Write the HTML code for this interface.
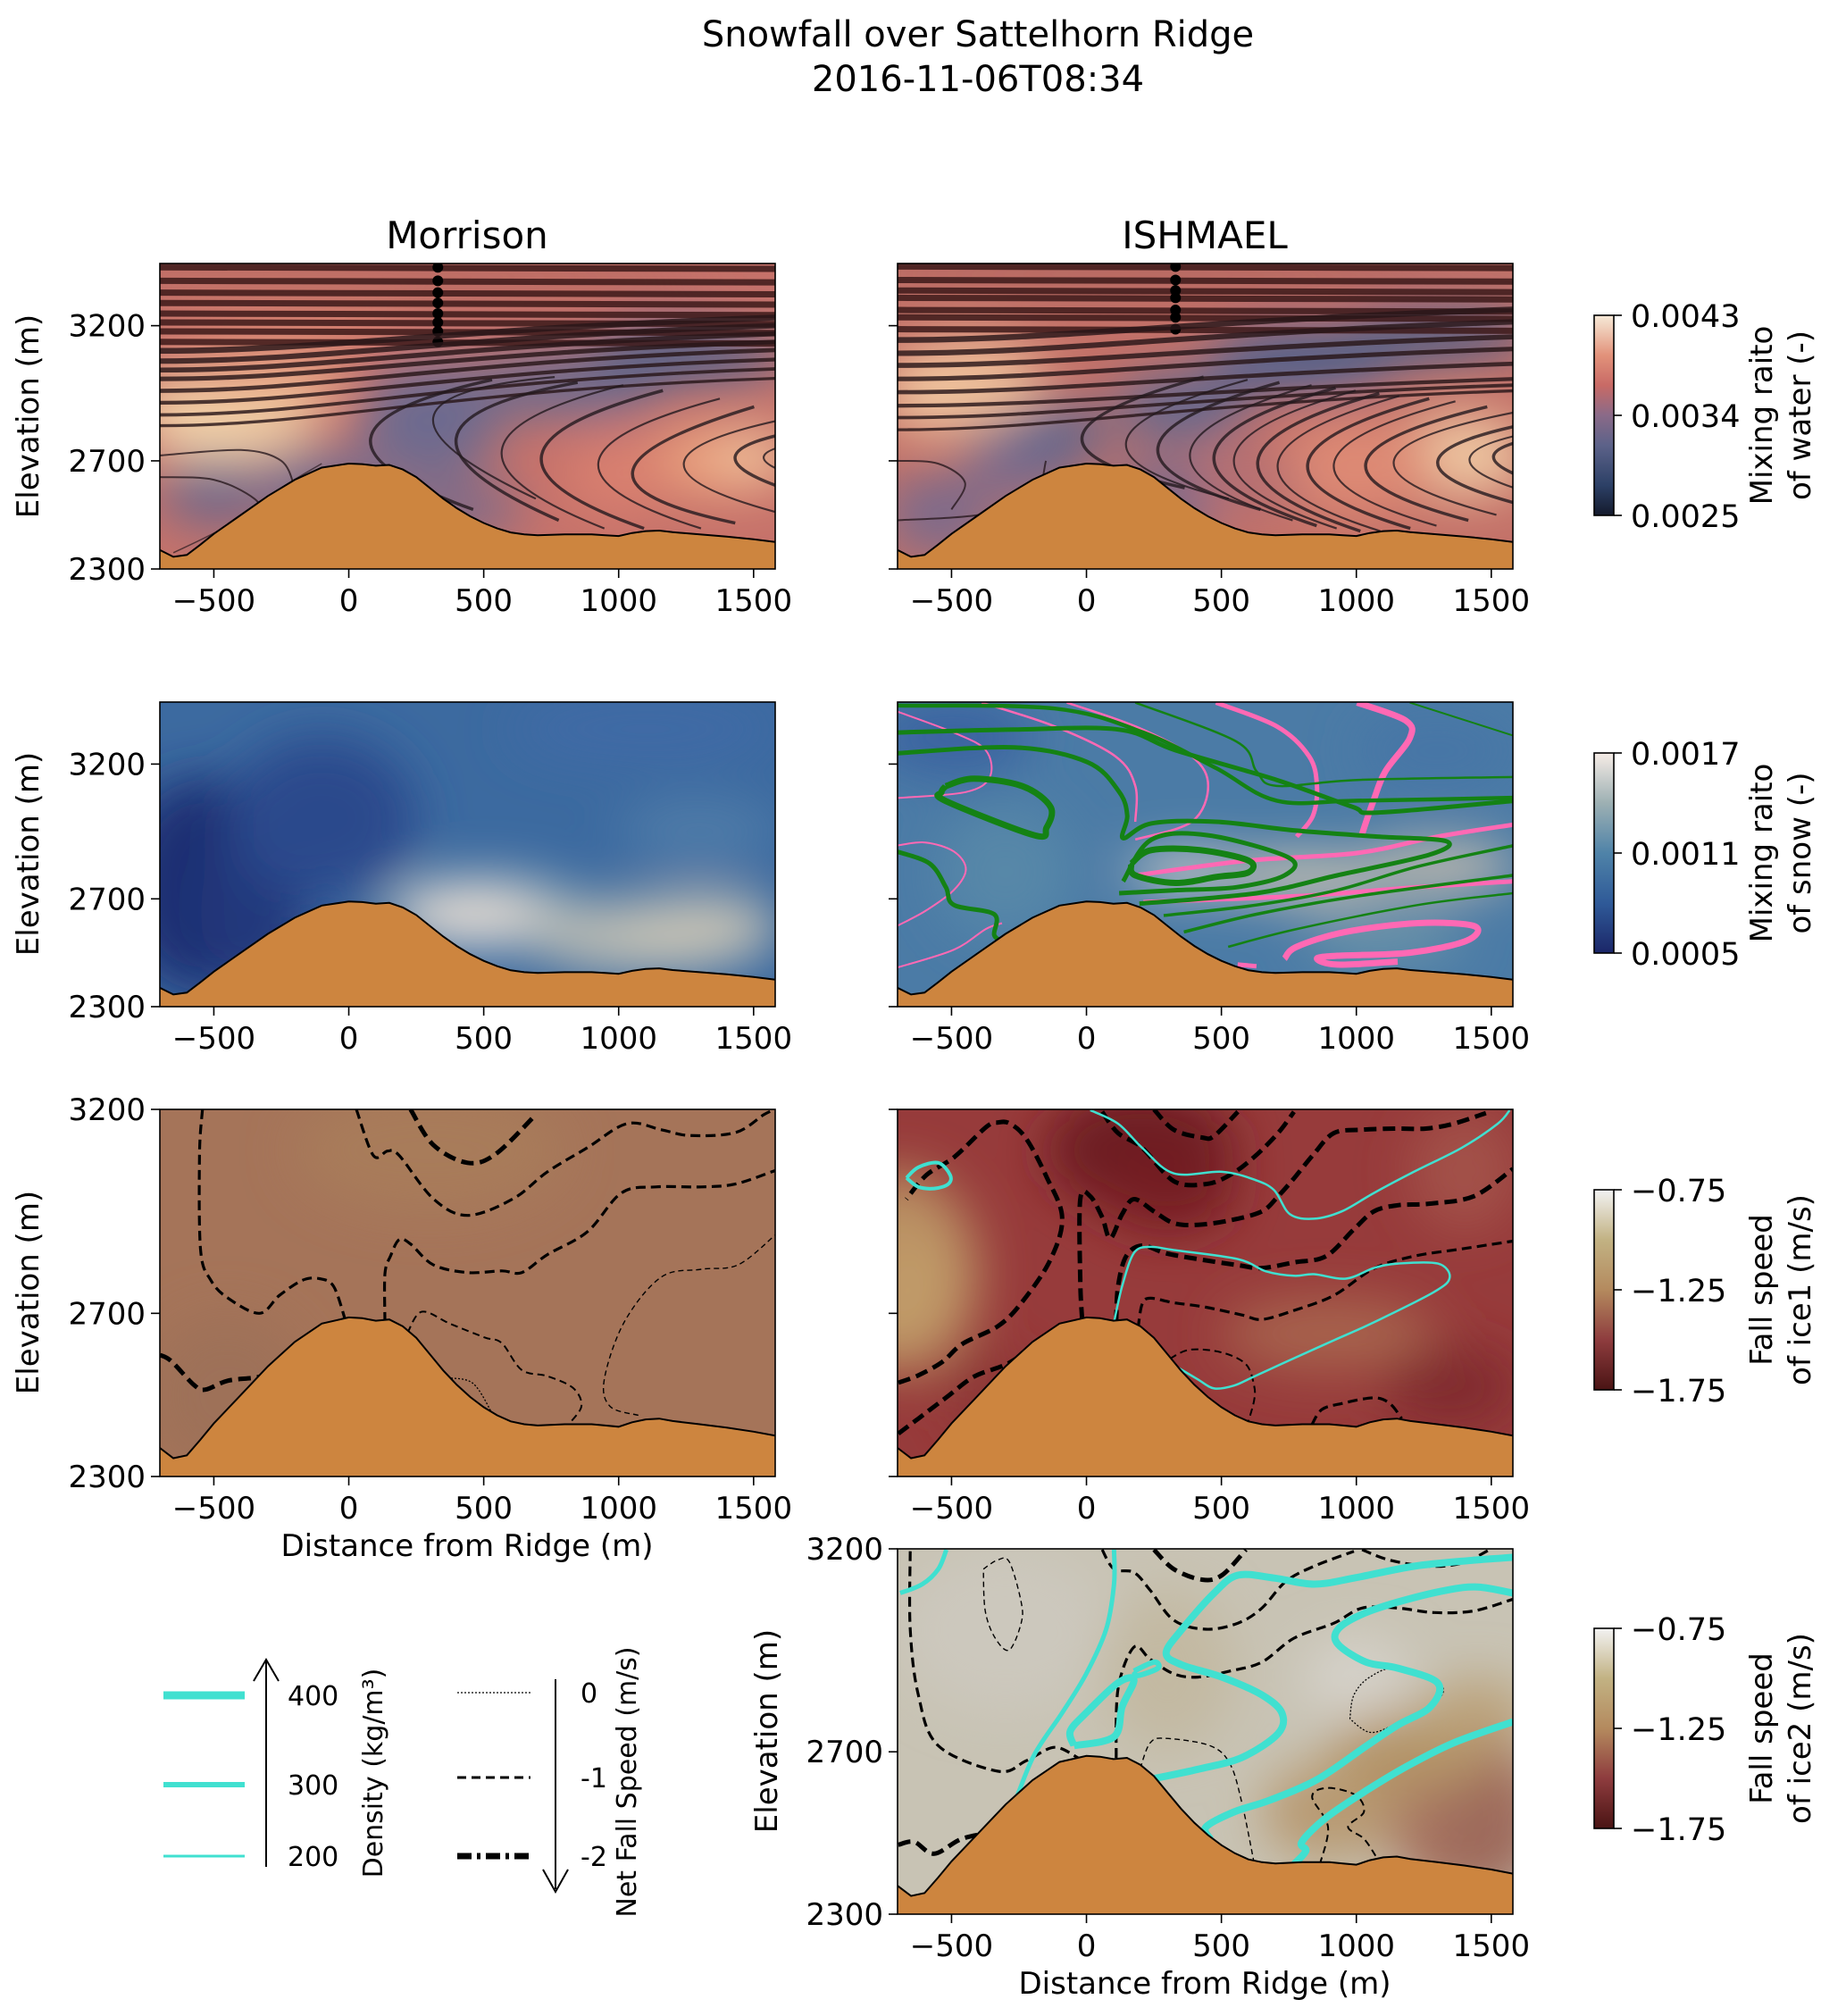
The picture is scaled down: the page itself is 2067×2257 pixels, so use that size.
<!DOCTYPE html>
<html><head><meta charset="utf-8"><title>Snowfall over Sattelhorn Ridge</title>
<style>
html,body{margin:0;padding:0;background:#fff;}
svg{display:block;font-family:"DejaVu Sans","Liberation Sans",sans-serif;}
</style></head>
<body>
<svg id="fig" xmlns="http://www.w3.org/2000/svg" width="2067" height="2257" viewBox="0 0 2067 2257">
<defs>
<linearGradient id="cbWater" x1="0" y1="1" x2="0" y2="0">
<stop offset="0" stop-color="#141a2c"/><stop offset="0.15" stop-color="#2c4066"/><stop offset="0.35" stop-color="#5c6289"/><stop offset="0.5" stop-color="#8a6a88"/><stop offset="0.65" stop-color="#c86a66"/><stop offset="0.8" stop-color="#e2927a"/><stop offset="1" stop-color="#f6ead8"/></linearGradient>
<linearGradient id="cbSnow" x1="0" y1="1" x2="0" y2="0">
<stop offset="0" stop-color="#1b2668"/><stop offset="0.25" stop-color="#2f5a98"/><stop offset="0.5" stop-color="#4f83a8"/><stop offset="0.75" stop-color="#9db0b3"/><stop offset="1" stop-color="#f6ece6"/></linearGradient>
<linearGradient id="cbIce" x1="0" y1="1" x2="0" y2="0">
<stop offset="0" stop-color="#4a1414"/><stop offset="0.25" stop-color="#8e3c3e"/><stop offset="0.5" stop-color="#b48a5e"/><stop offset="0.75" stop-color="#c2b283"/><stop offset="1" stop-color="#f2f2f2"/></linearGradient>
</defs>
<g id="root"></g>
</svg>
<script>
// ---------- axis settings ----------
const xTicks=[-500,0,500,1000,1500];
const yTicksTall=[2300,2700,3200];
// ---------- terrain profile ----------
const terrX=[-700,-650,-600,-550,-500,-400,-300,-200,-100,0,50,100,150,200,250,300,350,400,450,500,550,600,650,700,800,900,950,1000,1050,1100,1150,1200,1300,1400,1500,1580];
const terrY=[2370,2345,2352,2390,2430,2500,2570,2630,2675,2690,2688,2682,2685,2668,2640,2600,2560,2525,2495,2470,2450,2435,2428,2425,2428,2428,2425,2422,2433,2440,2442,2436,2428,2420,2410,2400];
// ---------- colorbar ticks ----------
const cbWaterTicks=["0.0043","0.0034","0.0025"];
const cbSnowTicks=["0.0017","0.0011","0.0005"];
const cbIceTicks=["\u22120.75","\u22121.25","\u22121.75"];
// ---------- row1 streamlines ----------
const m1FlatY=[3416,3366,3322,3284,3245,3212,3179,3140];
const m1RiseL=[3107,3069,3036,3003,2959,2915,2870,2830];
const m1RiseR=[3230,3200,3170,3140,3110,3075,3040,3005];
const m1CvX=[81,313,398,567,714,925,1052,1242,1432,1538];
const m1CvY=[2783,2860,2783,2739,2717,2695,2661,2695,2717,2717];
const m1CtX=[531,763,848,1017,1164,1375,1502,1692,1882,1988];
const m1CtY=[3000,3010,2990,2980,2960,2930,2900,2870,2840,2800];
const m1CbX=[461,693,778,947,1094,1305,1432,1622,1812,1918];
const m1CbY=[2520,2560,2480,2450,2450,2450,2470,2500,2540,2580];
const i1FlatY=[3419,3369,3330,3303,3258,3231,3187];
const i1RiseL=[3147,3098,3053,3003,2954,2904,2860,2815];
const i1RiseR=[3260,3214,3159,3114,3059,3003,2980,2959];
const i1CvX=[-16,147,265,384,473,547,635,709,820,917,1035,1139,1302,1420,1509];
const i1CvY=[2790,2770,2750,2730,2720,2710,2700,2690,2690,2690,2690,2700,2700,2710,2720];
const i1CtX=[434,597,715,834,923,997,1085,1159,1270,1367,1485,1589,1752,1870,1959];
const i1CtY=[3010,3000,2990,2980,2970,2960,2950,2940,2930,2920,2900,2880,2860,2840,2820];
const i1CbX=[364,527,645,764,853,927,1015,1089,1200,1297,1415,1519,1682,1800,1889];
const i1CbY=[2600,2560,2520,2480,2460,2450,2440,2440,2450,2460,2480,2500,2520,2540,2560];
// ---------- row2 ISHMAEL contours ----------
const g2X=[[166,241,420,600,600,480,330,181,166],[136,241,450,749,734,555,330,121],[196,630,929,1272,1332,1078,779,480,241,136,151,121,4,-267,-701],[286,630,929,1228,1580],[361,630,1003,1580],[525,779,1228,1580],[-701,-267,121,330,705,984,1078,1580],[-701,-118,211,480,705,1003,1580],[181,555,630,705,1003,1580],[1198,1580],[-522,-417,-237,-133,-148,-193,-522,-537,-522],[-701,-581,-521,-491,-342,-342,-312]];
const g2Y=[[2831,2881,2881,2842,2798,2781,2759,2787,2831],[2765,2920,2936,2853,2787,2743,2732,2721],[2682,2721,2787,2864,2914,2931,2953,2986,2980,2925,3008,3097,3207,3262,3240],[2638,2677,2732,2820,2897],[2577,2643,2710,2787],[2522,2588,2677,2721],[3317,3328,3328,3251,3141,3042,3020,3063],[3417,3406,3317,3185,3064,3064,3075],[3428,3284,3174,3119,3141,3152],[3428,3306],[3118,3146,3118,3041,2964,2936,3063,3096,3118],[2875,2831,2743,2677,2643,2566,2544]];
const g2W=[7,5,5,3.5,3.5,2.5,5,4.5,2.5,2,7,5];
const p2X=[[1003,1182,1198,1108,1063,1018],[181,600,1003,1302,1580],[480,705,825,854,839,779],[-73,181,390,451,390,181],[-388,-118,107,181,181],[-701,-492,-373,-358,-448,-701],[-701,-597,-492,-447,-492,-597,-701],[-701,-492,-373,-313],[734,779,959,1228,1437,1407,1198,929,854,929,1153],[560,630],[211,779,1228,1580]];
const p2Y=[[3428,3362,3296,3174,3063,2931],[2787,2842,2870,2931,2975],[3428,3340,3229,3119,3008,2931],[3428,3340,3229,3119,2986,2920],[3428,3340,3229,3119,2986],[3395,3317,3251,3152,3096,3074],[2898,2909,2876,2810,2732,2655,2600],[2445,2511,2588,2610],[2478,2522,2577,2610,2599,2544,2500,2489,2478,2456,2467],[2456,2450],[2688,2710,2743,2765]];
const p2W=[7,5,5,2.5,2.5,2,2,2,7,5,5];
// ---------- row3 contours ----------
const m3X=[[-700,-658,-573,-531,-447,-320,-235,-162],[-542,-553,-549,-511,-447,-331,-257,-172,-109,-56,-14],[134,134,155,187,229,313,440,567,641,736,884,1010,1137,1306,1432,1580],[28,91,144,187,313,440,609,736,884,1031,1158,1263,1432,1538,1580],[229,313,440,545,693],[218,271,377,503,567,641,736,831,862,809],[1073,968,947,1021,1158,1306,1443,1580],[366,461,535]];
const m3Y=[[2598,2583,2524,2513,2535,2546,2576,2612],[3200,3091,2855,2781,2737,2700,2744,2781,2785,2766,2686],[2679,2797,2841,2881,2870,2819,2800,2804,2800,2844,2900,2995,3010,3010,3017,3050],[3200,3087,3098,3087,2981,2940,2981,3047,3106,3165,3150,3136,3143,3187,3200],[3200,3113,3069,3091,3187],[2653,2704,2674,2641,2627,2561,2546,2517,2472,2424],[2450,2472,2539,2679,2789,2808,2819,2892],[2542,2528,2450]];
const m3L=[2,1,1,1,2,0,-1,-2];
const i3X=[[-697,-623,-519,-416,-297,-208,-155],[-697,-623,-534,-460,-327,-238,-134,-90,-149,-223,-283,-327,-371,-490,-593,-667],[-16,-23,-23,14,58,88,132,176,250,324,413,532,650,710,769,843,917,1021,1139,1258,1361,1480],[250,324,428,473,561],[58,117,206,324,443,532,621,710,769],[110,117,147,206,295,413,561,650,769,887,991,1065,1154,1273,1435,1580],[191,206,236,324,443,576,650,769,917,1065,1213,1391,1580],[310,384,502,591,621,621,598],[835,872,946,1065,1124,1168]];
const i3Y=[[2405,2442,2494,2545,2575,2612,2623],[2530,2548,2581,2625,2669,2728,2831,2935,3036,3128,3165,3168,3157,3083,3039,2980],[2685,2781,2980,2987,2936,2884,2943,2980,2950,2921,2917,2928,2950,2987,3031,3091,3142,3150,3153,3153,3165,3191],[3200,3150,3131,3135,3194],[3194,3142,3106,3024,3017,3039,3083,3142,3194],[2678,2766,2840,2866,2847,2833,2818,2811,2825,2840,2906,2950,2965,2969,2987,3054],[2663,2722,2737,2726,2715,2696,2685,2707,2744,2810,2840,2858,2877],[2589,2611,2604,2575,2523,2486,2431],[2427,2464,2479,2493,2479,2442]];
const i3L=[2,2,2,2,2,2,1,0,1];
const i3cX=[[-667,-623,-549,-505,-512,-564,-623,-667],[14,117,206,324,502,621,695,754,843,946,1065,1213,1391,1524,1568],[102,132,176,236,324,561,665,769,843,961,1065,1154,1302,1346,1287,1065,917,769,621,547,473,413,339]];
const i3cY=[[3032,3058,3069,3039,3017,3006,3010,3032],[3198,3165,3106,3043,3047,3028,3002,2943,2932,2950,2995,3047,3106,3165,3198],[2678,2766,2848,2863,2855,2833,2803,2792,2796,2785,2811,2822,2822,2788,2752,2678,2634,2590,2545,2523,2516,2538,2567]];
// ---------- row4 contours ----------
const i4cX=[[-690,-608,-549,-519],[-327,-268,-194,-90,-1,73,102,102],[-46,-60,-1,117,176,132,102,-46],[176,250,265,191,176],[250,413,576,710,724,650,502,354,295,354,473,561,695,843,991,1213,1435,1580],[458,443,547,680,858,1036,1154,1273,1302,1154,1036,932,932,1021,1154,1332,1450,1580],[769,813,798,887,1036,1184,1361,1580]];
const i4cY=[[3091,3113,3150,3198],[2508,2574,2692,2796,2892,3002,3113,3198],[2715,2751,2796,2870,2877,2811,2737,2715],[2899,2921,2906,2888,2899],[2634,2657,2686,2745,2796,2840,2884,2914,2943,3002,3091,3135,3128,3113,3128,3157,3172,3179],[2486,2515,2552,2581,2633,2714,2766,2810,2869,2906,2921,2965,3002,3039,3069,3098,3106,3091],[2423,2456,2478,2537,2604,2663,2722,2774]];
const i4cW=[5,5,8,6,8,8,8];
const i4kX=[[-697,-638,-564,-460,-327],[-653,-653,-623,-549,-327,-223,-119,-31],[-382,-331,-286,-242,-242,-286,-338,-375,-382],[58,102,176,236,324,443,561,650,739,843,991],[250,324,428,502,591],[1021,1124,1272,1391,1494],[110,117,176,236,324,413,532,650,769,917,1021,1154,1287,1435,1580],[199,236,295,458,532,576,621],[976,991,1050,1154,1317,1272,1139,1050,976],[865,895,836,895,998,1028,969,1028,1073]];
const i4kY=[[2471,2478,2449,2486,2504],[3194,3002,2840,2715,2652,2678,2711,2685],[3150,3172,3168,3069,3017,2951,2980,3047,3150],[3198,3150,3142,3098,3024,3002,3017,3054,3120,3157,3194],[3198,3150,3124,3135,3198],[3198,3172,3157,3165,3198],[2685,2855,2958,2928,2892,2884,2899,2921,2980,3017,3054,3054,3043,3047,3076],[2659,2722,2733,2715,2670,2574,2427],[2781,2840,2884,2906,2862,2810,2766,2748,2781],[2423,2515,2589,2611,2593,2552,2515,2486,2442]];
const i4kL=[2,1,-1,1,2,1,1,-1,-2,0];

// ---------- helpers ----------
const NS="http://www.w3.org/2000/svg";
const root=document.getElementById('root');
const XMIN=-700,XMAX=1580;
function mk(tag,attrs,parent){const e=document.createElementNS(NS,tag);for(const k in attrs)e.setAttribute(k,attrs[k]);(parent||root).appendChild(e);return e;}
function sx(p,v){return p.x0+(v-XMIN)/(XMAX-XMIN)*(p.x1-p.x0);}
function sy(p,v){return p.y1-(v-p.ymin)/(p.ymax-p.ymin)*(p.y1-p.y0);}
function pathD(p,xs,ys){let d='';for(let i=0;i<xs.length;i++){d+=(i?'L':'M')+sx(p,xs[i]).toFixed(1)+' '+sy(p,ys[i]).toFixed(1);}return d;}
function smoothD(p,xs,ys){
  const P=xs.map((x,i)=>[sx(p,x),sy(p,ys[i])]);
  let d='M'+P[0][0].toFixed(1)+' '+P[0][1].toFixed(1);
  for(let i=0;i<P.length-1;i++){
    const p0=P[Math.max(0,i-1)],p1=P[i],p2=P[i+1],p3=P[Math.min(P.length-1,i+2)];
    const c1=[p1[0]+(p2[0]-p0[0])/6,p1[1]+(p2[1]-p0[1])/6],c2=[p2[0]-(p3[0]-p1[0])/6,p2[1]-(p3[1]-p1[1])/6];
    d+='C'+c1[0].toFixed(1)+' '+c1[1].toFixed(1)+' '+c2[0].toFixed(1)+' '+c2[1].toFixed(1)+' '+p2[0].toFixed(1)+' '+p2[1].toFixed(1);
  }
  return d;
}
function txt(x,y,s,size,attrs,parent){const t=mk('text',Object.assign({x:x,y:y,'font-size':size,fill:'#000'},attrs||{}),parent);t.textContent=s;return t;}

const panels={
 m1:{x0:179,x1:868,y0:295,y1:637,ymin:2300,ymax:3430,yt:[2300,2700,3200],lab:true},
 i1:{x0:1005,x1:1694,y0:295,y1:637,ymin:2300,ymax:3430,yt:[2300,2700,3200],lab:false},
 m2:{x0:179,x1:868,y0:786,y1:1127,ymin:2300,ymax:3430,yt:[2300,2700,3200],lab:true},
 i2:{x0:1005,x1:1694,y0:786,y1:1127,ymin:2300,ymax:3430,yt:[2300,2700,3200],lab:false},
 m3:{x0:179,x1:868,y0:1242,y1:1653,ymin:2300,ymax:3200,yt:yTicksTall,lab:true},
 i3:{x0:1005,x1:1694,y0:1242,y1:1653,ymin:2300,ymax:3200,yt:yTicksTall,lab:false},
 i4:{x0:1005,x1:1694,y0:1734,y1:2143,ymin:2300,ymax:3200,yt:yTicksTall,lab:true}
};

const bg={
 m1:{base:'#c6726a',blobs:[[-450,2880,350,170,'#f0cca0'],[-500,2800,250,90,'#f3d6ad'],[-300,3000,300,80,'#e8a987'],[300,2850,260,220,'#6d6a8f'],[800,2980,380,120,'#6a6a8e'],[1250,3080,380,100,'#5a6388'],[1200,3140,250,60,'#4b5f88'],[-500,2580,200,120,'#6c678c'],[-100,2600,250,150,'#776a8d'],[400,2520,250,100,'#7c6a8a'],[1350,2700,300,120,'#eca37e'],[1000,2650,200,150,'#d98070'],[1500,2720,150,90,'#f1c49c'],[200,3380,1100,70,'#b86a62'],[-200,3200,500,70,'#d88270']]},
 i1:{base:'#c37168',blobs:[[-450,3000,300,150,'#eebe98'],[-550,2900,200,90,'#f0c7a0'],[-250,2700,200,150,'#7d6c8c'],[-100,2800,180,110,'#5b668e'],[350,2900,250,120,'#5e6790'],[800,3070,350,120,'#4c6190'],[1300,3170,350,80,'#3f5b8a'],[1100,3120,400,60,'#4d6088'],[-550,2500,200,150,'#7a6a8c'],[300,2560,200,150,'#7a6b8c'],[1380,2720,260,150,'#efc9a3'],[1000,2680,300,180,'#de8a74'],[600,2620,200,120,'#b46f73'],[200,3390,1100,60,'#b0655e']]},
 m2:{base:'#3c6aa0',blobs:[[-550,2750,300,400,'#1f2f72'],[-350,2650,200,300,'#24397b'],[-100,3000,350,300,'#2c4a8c'],[1100,3330,500,120,'#3f6ba6'],[500,2650,380,140,'#9db0b8'],[450,2640,260,90,'#e9dfd6'],[1100,2560,450,140,'#b9bbb4'],[1300,2600,300,120,'#c7c3b5'],[1300,2950,300,120,'#4f7ca8']]},
 i2:{base:'#4b7ba6',blobs:[[-500,3300,300,150,'#3a64a0'],[400,2800,250,60,'#e8dccd'],[800,2780,350,80,'#d1c6b2'],[1300,2820,300,80,'#d3c4ae'],[-300,2800,250,250,'#5687a8'],[1100,2560,300,100,'#6b93a8'],[1300,3250,300,150,'#4676a6']]},
 m3:{base:'#a57459',blobs:[[-450,2500,300,200,'#9e7158'],[300,3100,500,150,'#a87b5a']]},
 i3:{base:'#973b3b',blobs:[[200,3100,350,150,'#6d1a20'],[300,3000,250,100,'#741e22'],[-700,2800,300,250,'#b88e62'],[-650,2750,200,150,'#c09a68'],[900,2650,400,90,'#a7644e'],[1350,2520,250,100,'#802a2e'],[1400,3050,200,150,'#a3514a'],[-350,2500,150,100,'#8c3436']]},
 i4:{base:'#c8c3b4',blobs:[[1400,2550,300,220,'#a87560'],[1500,2500,200,150,'#9e6a5c'],[900,2550,250,120,'#b89a72'],[1200,2700,300,100,'#b49468'],[1450,2800,200,80,'#bba27a'],[-300,3000,400,200,'#ccc8bd'],[1000,2880,200,100,'#d5d2ca'],[300,2900,250,200,'#c3b9a2']]}
};

function drawPanel(key){
 const p=panels[key];
 const g=mk('g',{});
 
 
 const cid='clip-'+key;
 const cp=mk('clipPath',{id:cid},g);
 mk('rect',{x:p.x0,y:p.y0,width:p.x1-p.x0,height:p.y1-p.y0},cp);
 const fid='blur-'+key;
 const f=mk('filter',{id:fid,x:p.x0-200,y:p.y0-200,width:p.x1-p.x0+400,height:p.y1-p.y0+400,filterUnits:'userSpaceOnUse'},g);
 mk('feGaussianBlur',{stdDeviation:28},f);
 const inner=mk('g',{'clip-path':'url(#'+cid+')'},g);
 const B=bg[key];
 const baseR=mk('rect',{x:p.x0,y:p.y0,width:p.x1-p.x0,height:p.y1-p.y0,fill:B.base},inner);
 
 
 const bl=mk('g',{filter:'url(#'+fid+')'},inner);
 B.blobs.forEach(b=>{
   const rx=Math.abs(sx(p,b[0]+b[2])-sx(p,b[0])), ry=Math.abs(sy(p,b[1]+b[3])-sy(p,b[1]));
   mk('ellipse',{cx:sx(p,b[0]),cy:sy(p,b[1]),rx:rx,ry:ry,fill:b[4]},bl);
 });
 return {g,inner,p};
}
function terrain(P){
 const p=P.p;
 let d=pathD(p,terrX,terrY)+'L'+sx(p,XMAX)+' '+p.y1+'L'+sx(p,XMIN)+' '+p.y1+'Z';
 const t=mk('path',{d:d,fill:'#cd853f',stroke:'none'},P.inner);
 
 
 const l=mk('path',{d:pathD(p,terrX,terrY),fill:'none',stroke:'#000','stroke-width':2},P.inner);
 
 
}
function axes(P){
 const p=P.p;
 const fr=mk('rect',{x:p.x0,y:p.y0,width:p.x1-p.x0,height:p.y1-p.y0,fill:'none',stroke:'#000','stroke-width':1.6},P.g);
 
 
 xTicks.forEach(v=>{
   const x=sx(p,v);
   mk('line',{x1:x,x2:x,y1:p.y1,y2:p.y1+10,stroke:'#000','stroke-width':1.6},P.g);
   const t=txt(x,p.y1+47,(v<0?'\u2212':'')+Math.abs(v),34,{'text-anchor':'middle'},P.g);
   
   
 });
 p.yt.forEach(v=>{
   const y=sy(p,v);
   mk('line',{x1:p.x0-10,x2:p.x0,y1:y,y2:y,stroke:'#000','stroke-width':1.6},P.g);
   if(p.lab){const t=txt(p.x0-16,y+12,String(v),34,{'text-anchor':'end'},P.g);
   
   }
 });
}
function line(P,d,stroke,w,dash,name){
 const e=mk('path',{d:d,fill:'none',stroke:stroke,'stroke-width':w,'stroke-linejoin':'round'},P.inner);
 if(dash)e.setAttribute('stroke-dasharray',dash);
 
 
 return e;
}
function fallDash(P,xs,ys,lv){
 const st=lv<=-2?[1.3,'2 2']:(lv===-1?[1.4,'6 4']:(lv===0?[2,'8 5']:(lv===1?[3.2,'11 6']:[5,'14 7'])));
 line(P,smoothD(P.p,xs,ys),'#000',st[0],st[1],'fall-speed-contour');
}
function streams(P,flatY,riseL,riseR,cvX,cvY,ctX,ctY,cbX,cbY,knotX){
 const p=P.p;
 flatY.forEach((e,i)=>{
   line(P,'M'+sx(p,-700)+' '+sy(p,e)+'L'+sx(p,1580)+' '+sy(p,e-6),'rgba(60,25,25,0.85)',7,null,'streamline');
   const k=mk('circle',{cx:sx(p,knotX),cy:sy(p,e),r:6,fill:'#000'},P.inner);
   
   
 });
 riseL.forEach((L,i)=>{
   const R=riseR[i];const w=Math.max(3,6.5-i*0.45);
   const d='M'+sx(p,-700)+' '+sy(p,L)+'C'+sx(p,-100)+' '+sy(p,L)+' '+sx(p,400)+' '+sy(p,R-40)+' '+sx(p,1580)+' '+sy(p,R);
   line(P,d,'rgba(40,22,25,0.82)',w,null,'streamline');
 });
 cvX.forEach((vx,i)=>{
   const cx=2*sx(p,vx)-(sx(p,ctX[i])+sx(p,cbX[i]))/2, cy=2*sy(p,cvY[i])-(sy(p,ctY[i])+sy(p,cbY[i]))/2;
   const d='M'+sx(p,ctX[i])+' '+sy(p,ctY[i])+'Q'+cx+' '+cy+' '+sx(p,cbX[i])+' '+sy(p,cbY[i]);
   line(P,d,'rgba(35,25,30,0.8)',i%2?2.2:3.5,null,'streamline');
 });
}

// ---- Row 1 ----
let P=drawPanel('m1');
streams(P,m1FlatY,m1RiseL,m1RiseR,m1CvX,m1CvY,m1CtX,m1CtY,m1CbX,m1CbY,330);
line(P,smoothD(P.p,[-700,-500,-350,-300],[2640,2630,2560,2480]),'rgba(40,25,30,0.8)',2,null,'streamline');
line(P,smoothD(P.p,[-700,-400,-250,-200],[2720,2740,2700,2600]),'rgba(40,25,30,0.8)',2,null,'streamline');
line(P,smoothD(P.p,[-650,-450,-250,-100],[2360,2460,2600,2690]),'rgba(40,25,30,0.7)',1.5,null,'streamline');
terrain(P);axes(P);
P=drawPanel('i1');
streams(P,i1FlatY,i1RiseL,i1RiseR,i1CvX,i1CvY,i1CtX,i1CtY,i1CbX,i1CbY,330);
line(P,smoothD(P.p,[-700,-550,-450,-500],[2700,2690,2620,2520]),'rgba(40,25,30,0.8)',2,null,'streamline');
line(P,smoothD(P.p,[-700,-400,-200,-150],[2480,2500,2560,2700]),'rgba(40,25,30,0.8)',2,null,'streamline');
terrain(P);axes(P);
// ---- Row 2 ----
P=drawPanel('m2');terrain(P);axes(P);
P=drawPanel('i2');
p2X.forEach((xs,i)=>line(P,smoothD(P.p,xs,p2Y[i]),'#ff69b4',p2W[i],null,'pink-contour'));
g2X.forEach((xs,i)=>line(P,smoothD(P.p,xs,g2Y[i]),'#148214',g2W[i],null,'green-contour'));
terrain(P);axes(P);
// ---- Row 3 ----
P=drawPanel('m3');
m3X.forEach((xs,i)=>fallDash(P,xs,m3Y[i],m3L[i]));
terrain(P);axes(P);
P=drawPanel('i3');
i3X.forEach((xs,i)=>fallDash(P,xs,i3Y[i],i3L[i]));
i3cX.forEach((xs,i)=>line(P,smoothD(P.p,xs,i3cY[i]),'#40e0d0',i===0?4:2.5,null,'density-contour'));
terrain(P);axes(P);
// ---- Row 4 ----
P=drawPanel('i4');
i4kX.forEach((xs,i)=>fallDash(P,xs,i4kY[i],i4kL[i]));
i4cX.forEach((xs,i)=>line(P,smoothD(P.p,xs,i4cY[i]),'#40e0d0',i4cW[i],null,'density-contour'));
terrain(P);axes(P);

// ---- titles / labels ----
let t;
t=txt(1095,52,'Snowfall over Sattelhorn Ridge',40,{'text-anchor':'middle'});


t=txt(1095,102,'2016-11-06T08:34',40,{'text-anchor':'middle'});


t=txt(523,278,'Morrison',42,{'text-anchor':'middle'});


t=txt(1349,278,'ISHMAEL',42,{'text-anchor':'middle'});


[[43,466],[43,956],[43,1447],[870,1938]].forEach(a=>{
 const e=txt(a[0],a[1],'Elevation (m)',34,{'text-anchor':'middle',transform:'rotate(-90 '+a[0]+' '+a[1]+')'});
 
 
});
t=txt(523,1742,'Distance from Ridge (m)',34,{'text-anchor':'middle'});


t=txt(1349,2232,'Distance from Ridge (m)',34,{'text-anchor':'middle'});



// ---- colorbars ----
function colorbar(y0,y1,grad,ticks,l1,l2,name){
 const g=mk('g',{});
 
 
 mk('rect',{x:1785,y:y0,width:22,height:y1-y0,fill:'url(#'+grad+')',stroke:'#000','stroke-width':1.6},g);
 ticks.forEach((s,i)=>{
   const y=y0+(y1-y0)*i/(ticks.length-1);
   mk('line',{x1:1807,x2:1816,y1:y,y2:y,stroke:'#000','stroke-width':1.6},g);
   const e=txt(1826,y+13,s,35,{},g);
   
   
 });
 const cy=(y0+y1)/2;
 const a=txt(1984,cy,l1,34,{'text-anchor':'middle',transform:'rotate(-90 1984 '+cy+')'},g);
 
 
 const b=txt(2027,cy,l2,34,{'text-anchor':'middle',transform:'rotate(-90 2027 '+cy+')'},g);
 
 
}
colorbar(353,577,'cbWater',cbWaterTicks,'Mixing raito','of water (-)','colorbar-water');
colorbar(843,1067,'cbSnow',cbSnowTicks,'Mixing raito','of snow (-)','colorbar-snow');
colorbar(1332,1556,'cbIce',cbIceTicks,'Fall speed','of ice1 (m/s)','colorbar-ice1');
colorbar(1823,2047,'cbIce',cbIceTicks,'Fall speed','of ice2 (m/s)','colorbar-ice2');

// ---- legend ----
const lg=mk('g',{});


const densLabels=['400','300','200'];
const densW=[9,6,3];
const densY=[1898,1998,2078];
densLabels.forEach((s,i)=>{
 const l=mk('line',{x1:183,x2:274,y1:densY[i],y2:densY[i],stroke:'#40e0d0','stroke-width':densW[i]},lg);
 
 
 txt(322,densY[i]+11,s,30,{},lg);
});
mk('line',{x1:298,x2:298,y1:2090,y2:1860,stroke:'#000','stroke-width':2},lg);
mk('path',{d:'M284 1882 L298 1858 L312 1882',fill:'none',stroke:'#000','stroke-width':2},lg);
t=txt(428,1985,'Density (kg/m\u00b3)',30,{'text-anchor':'middle',transform:'rotate(-90 428 1985)'},lg);


const fsLabels=['0','-1','-2'];
const fsY=[1895,1990,2078];
const fsStyle=[[1.2,'2 2'],[3,'10 6'],[7,'16 6 4 6']];
fsLabels.forEach((s,i)=>{
 const l=mk('line',{x1:512,x2:594,y1:fsY[i],y2:fsY[i],stroke:'#000','stroke-width':fsStyle[i][0],'stroke-dasharray':fsStyle[i][1]},lg);
 
 
 txt(650,fsY[i]+11,s,30,{},lg);
});
mk('line',{x1:622,x2:622,y1:1880,y2:2115,stroke:'#000','stroke-width':2},lg);
mk('path',{d:'M608 2093 L622 2118 L636 2093',fill:'none',stroke:'#000','stroke-width':2},lg);
t=txt(712,1995,'Net Fall Speed (m/s)',30,{'text-anchor':'middle',transform:'rotate(-90 712 1995)'},lg);


</script>
</body></html>
